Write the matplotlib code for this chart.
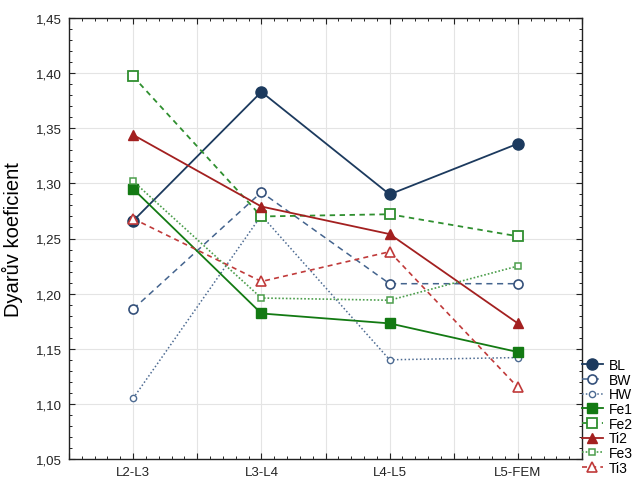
import matplotlib
matplotlib.use("Agg")
import matplotlib.pyplot as plt
from matplotlib.ticker import MultipleLocator, FuncFormatter

plt.rcParams['font.family'] = ['Liberation Sans', 'DejaVu Sans']

categories = ["L2-L3", "L3-L4", "L4-L5", "L5-FEM"]
BL = [1.266, 1.383, 1.290, 1.336]
BW = [1.186, 1.292, 1.209, 1.209]
HW = [1.105, 1.271, 1.140, 1.142]
Fe1 = [1.295, 1.182, 1.173, 1.147]
Fe2 = [1.397, 1.270, 1.272, 1.252]
Ti2 = [1.344, 1.279, 1.254, 1.173]
Fe3 = [1.302, 1.196, 1.194, 1.225]
Ti3 = [1.268, 1.211, 1.238, 1.115]

series = [
    ("BL", BL, dict(color="#1c3a5e", ls="-", lw=1.3, marker="o", ms=8, mfc="#1c3a5e", mec="#1c3a5e")),
    ("BW", BW, dict(color="#44648e", ls=(0, (4, 3)), lw=1.1, marker="o", ms=6.5, mfc="white", mec="#34507a", mew=1.2)),
    ("HW", HW, dict(color="#4d6b92", ls=(0, (1, 1.5)), lw=1.1, marker="o", ms=4.5, mfc="white", mec="#4d6b92", mew=1.0)),
    ("Fe1", Fe1, dict(color="#137a13", ls="-", lw=1.3, marker="s", ms=7, mfc="#137a13", mec="#137a13")),
    ("Fe2", Fe2, dict(color="#2f8f2f", ls=(0, (3, 2.5)), lw=1.3, marker="s", ms=7, mfc="white", mec="#2f8f2f", mew=1.3)),
    ("Ti2", Ti2, dict(color="#a32020", ls="-", lw=1.3, marker="^", ms=7.5, mfc="#a32020", mec="#a32020")),
    ("Fe3", Fe3, dict(color="#4c9e4c", ls=(0, (1, 1.2)), lw=1.2, marker="s", ms=4.5, mfc="white", mec="#4c9e4c", mew=1.1)),
    ("Ti3", Ti3, dict(color="#c03a3a", ls=(0, (3, 2.5)), lw=1.2, marker="^", ms=7, mfc="white", mec="#c03a3a", mew=1.2)),
]

fig = plt.figure(figsize=(6.35, 4.81), dpi=100)
ax = fig.add_axes([69/635, 1-460/481, (582-69)/635, (460-19)/481])

x = list(range(len(categories)))
for name, vals, st in series:
    ax.plot(x, vals, label=name, zorder=3, **st)

ax.set_xlim(-0.5, 3.5)
ax.set_ylim(1.05, 1.45)
ax.xaxis.set_major_locator(MultipleLocator(0.5))
ax.xaxis.set_minor_locator(MultipleLocator(0.1))
def xfmt(v, pos):
    i = int(round(v))
    if abs(v - i) < 1e-6 and 0 <= i < len(categories):
        return categories[i]
    return ""
ax.xaxis.set_major_formatter(FuncFormatter(xfmt))
ax.yaxis.set_major_locator(MultipleLocator(0.05))
ax.yaxis.set_minor_locator(MultipleLocator(0.01))
ax.yaxis.set_major_formatter(FuncFormatter(lambda v, p: f"{v:.2f}".replace(".", ",")))

ax.grid(True, which="major", color="#e4e4e4", lw=0.8, zorder=0)
ax.tick_params(which="both", direction="in", top=True, right=True, labelsize=9.5, colors="#222222")
ax.tick_params(which="major", length=4, width=0.8)
ax.tick_params(which="minor", length=2, width=0.7)
ax.tick_params(axis="y", which="major", pad=5)
ax.tick_params(axis="x", which="major", pad=5)
for s in ax.spines.values():
    s.set_color("#222222")
    s.set_linewidth(1.0)

ax.set_ylabel("Dyarův koeficient", fontsize=14.5)
ax.yaxis.set_label_coords((23 - 69) / 513, 0.5)

fig.legend(loc="upper left", bbox_to_anchor=(582/635, 1-359/481), frameon=False,
           fontsize=10, handlelength=1.5, handletextpad=0.45, labelspacing=0.05,
           borderaxespad=0, borderpad=0)

fig.savefig("out.png", dpi=100)
